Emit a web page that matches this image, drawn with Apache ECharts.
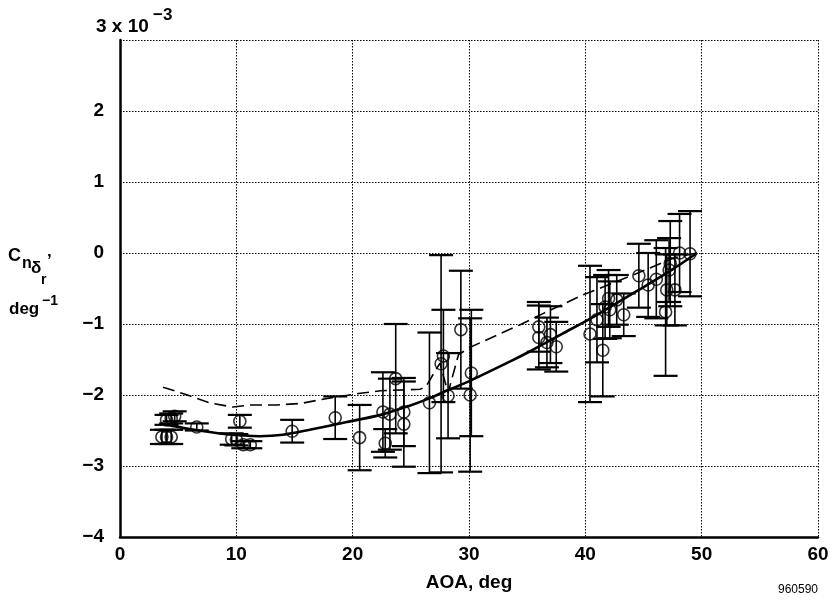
<!DOCTYPE html>
<html>
<head>
<meta charset="utf-8">
<script src="https://cdn.jsdelivr.net/npm/echarts@6/dist/echarts.min.js"></script>
<style>
html,body{margin:0;padding:0;background:#fff;}
#chart{width:834px;height:608px;}
</style>
</head>
<body>
<div id="chart"></div>
<script>
// ---- data (units: AOA deg, Cn_dr x 1e-3 per deg) ----
const pointAOA = [3.6,4.0,4.4,4.0,4.4,4.7,6.6,9.6,10.0,10.3,10.6,11.2,14.8,18.5,20.6,22.6,22.8,23.2,23.7,24.4,24.4,26.6,27.6,27.8,28.2,29.3,30.2,30.1,36.0,36.0,37.0,36.7,37.5,40.4,41.0,41.5,41.7,42.0,42.1,42.7,43.3,44.6,45.4,46.1,46.9,47.0,47.7,47.2,47.3,48.1,49.0];
const pointCn  = [-2.59,-2.59,-2.59,-2.35,-2.33,-2.30,-2.45,-2.62,-2.63,-2.37,-2.70,-2.70,-2.51,-2.32,-2.60,-2.24,-2.68,-2.27,-1.77,-2.24,-2.41,-2.11,-1.56,-1.45,-2.01,-1.08,-1.69,-2.00,-1.04,-1.19,-1.15,-1.26,-1.32,-1.14,-0.94,-1.37,-0.76,-0.64,-0.80,-0.66,-0.87,-0.32,-0.45,-0.37,-0.83,-0.52,-0.52,-0.24,-0.15,0.00,-0.01];
const pointErr = [0.10,0.10,0.10,0.07,0.07,0.07,0.05,0.08,0.08,0.09,0.05,0.05,0.16,0.30,0.46,0.56,0.20,0.50,0.77,0.48,0.60,0.99,1.53,0.65,0.60,0.83,0.89,1.08,0.35,0.45,0.40,0.35,0.35,0.96,0.60,0.65,0.45,0.40,0.40,0.35,0.30,0.45,0.45,0.55,0.90,0.50,0.50,0.45,0.60,0.55,0.60];

const solidAOA = [3.8,6,9,12,14,16.3,19.5,22.4,24.9,26.7,27.8,30.2,33.5,35.3,38,41,45,47.5,49.6];
const solidCn  = [-2.41,-2.48,-2.55,-2.58,-2.56,-2.49,-2.38,-2.28,-2.15,-2.04,-1.96,-1.79,-1.53,-1.38,-1.14,-0.87,-0.48,-0.23,0.0];

const dashAOA = [3.7,5.8,7.7,9.7,11.2,13.5,15.5,18.1,20.5,22.4,25.8,26.3,27.5,28.2,29.1,30.2,34.4,36.4,39.8,44.1,47.6,49.6];
const dashCn  = [-1.89,-2.0,-2.11,-2.17,-2.14,-2.14,-2.12,-2.04,-1.98,-1.94,-1.92,-1.88,-1.55,-1.97,-1.43,-1.32,-1.01,-0.85,-0.59,-0.31,-0.07,0.0];

const xTicks = [0,10,20,30,40,50,60];
const yTicks = [-4,-3,-2,-1,0,1,2,3];

// ---- build ----
const FONT = "'Liberation Sans',Arial,sans-serif";
const scatterData = pointAOA.map((x,i)=>[x,pointCn[i]]);
const errData = pointAOA.map((x,i)=>[x,pointCn[i]-pointErr[i],pointCn[i]+pointErr[i]]);
const solidData = solidAOA.map((x,i)=>[x,solidCn[i]]);
const dashData = dashAOA.map((x,i)=>[x,dashCn[i]]);

const chart = echarts.init(document.getElementById('chart'), null, {renderer:'canvas'});
const fmtY = v => v===3 ? '' : (v<0 ? '\u2212' + Math.abs(v) : String(v));
chart.setOption({
  animation:false,
  backgroundColor:'#fff',
  grid:{left:120,right:16,top:40,bottom:71,containLabel:false,outerBoundsMode:'none'},
  xAxis:{
    type:'value',min:xTicks[0],max:xTicks[xTicks.length-1],interval:10,
    name:'AOA, deg',nameLocation:'middle',nameGap:36,
    nameTextStyle:{fontFamily:FONT,fontWeight:'bold',fontSize:19,color:'#000'},
    axisLine:{show:true,onZero:false,lineStyle:{color:'#000',width:2.5}},
    axisTick:{show:false},
    axisLabel:{fontFamily:FONT,fontWeight:'bold',fontSize:19,color:'#000',margin:8},
    splitLine:{show:true,lineStyle:{color:'#000',width:1,type:[1.5,1.5]}}
  },
  yAxis:{
    type:'value',min:yTicks[0],max:yTicks[yTicks.length-1],interval:1,
    axisLine:{show:true,onZero:false,lineStyle:{color:'#000',width:2.5}},
    axisTick:{show:false},
    axisLabel:{fontFamily:FONT,fontWeight:'bold',fontSize:19,color:'#000',margin:16,formatter:fmtY},
    splitLine:{show:true,lineStyle:{color:'#000',width:1,type:[1.5,1.5]}}
  },
  series:[
    {
      type:'custom',
      data:errData,
      encode:{x:0,y:[1,2]},
      z:3,
      renderItem:function(params,api){
        const x=api.value(0), lo=api.value(1), hi=api.value(2);
        const pLo=api.coord([x,lo]), pHi=api.coord([x,hi]);
        const hw=12;
        return {type:'group',children:[
          {type:'line',shape:{x1:pLo[0],y1:pLo[1],x2:pHi[0],y2:pHi[1]},style:{stroke:'#000',lineWidth:1.6}},
          {type:'line',shape:{x1:pLo[0]-hw,y1:pLo[1],x2:pLo[0]+hw,y2:pLo[1]},style:{stroke:'#000',lineWidth:2.2}},
          {type:'line',shape:{x1:pHi[0]-hw,y1:pHi[1],x2:pHi[0]+hw,y2:pHi[1]},style:{stroke:'#000',lineWidth:2.2}}
        ]};
      }
    },
    {
      type:'line',data:solidData,smooth:0.3,showSymbol:false,z:4,
      lineStyle:{color:'#000',width:2.6}
    },
    {
      type:'line',data:dashData,smooth:false,showSymbol:false,z:4,
      lineStyle:{color:'#000',width:1.6,type:[12,6]}
    },
    {
      type:'scatter',data:scatterData,symbol:'circle',symbolSize:12,z:5,
      itemStyle:{color:'rgba(255,255,255,0)',borderColor:'#000',borderWidth:1.6}
    }
  ],
  graphic:[
    {type:'text',x:96,y:17,style:{text:'3 x 10',font:'bold 19px '+FONT,fill:'#000',align:'left',verticalAlign:'top'}},
    {type:'text',x:153,y:7,style:{text:'\u22123',font:'bold 17px '+FONT,fill:'#000',align:'left',verticalAlign:'top'}},
    {type:'text',x:8,y:247,style:{text:'C',font:'bold 18px '+FONT,fill:'#000',align:'left',verticalAlign:'top'}},
    {type:'text',x:22,y:256,style:{text:'n',font:'bold 16px '+FONT,fill:'#000',align:'left',verticalAlign:'top'}},
    {type:'text',x:31,y:260,style:{text:'\u03b4',font:'bold 17px '+FONT,fill:'#000',align:'left',verticalAlign:'top'}},
    {type:'text',x:41,y:273,style:{text:'r',font:'bold 14px '+FONT,fill:'#000',align:'left',verticalAlign:'top'}},
    {type:'text',x:47,y:253,style:{text:'\u2019',font:'bold 17px '+FONT,fill:'#000',align:'left',verticalAlign:'top'}},
    {type:'text',x:9,y:301,style:{text:'deg',font:'bold 17px '+FONT,fill:'#000',align:'left',verticalAlign:'top'}},
    {type:'text',x:42,y:294,style:{text:'\u22121',font:'bold 14px '+FONT,fill:'#000',align:'left',verticalAlign:'top'}},
    {type:'text',x:818,y:584,style:{text:'960590',font:'12px '+FONT,fill:'#000',align:'right',verticalAlign:'top'}}
  ]
});
</script>
</body>
</html>
